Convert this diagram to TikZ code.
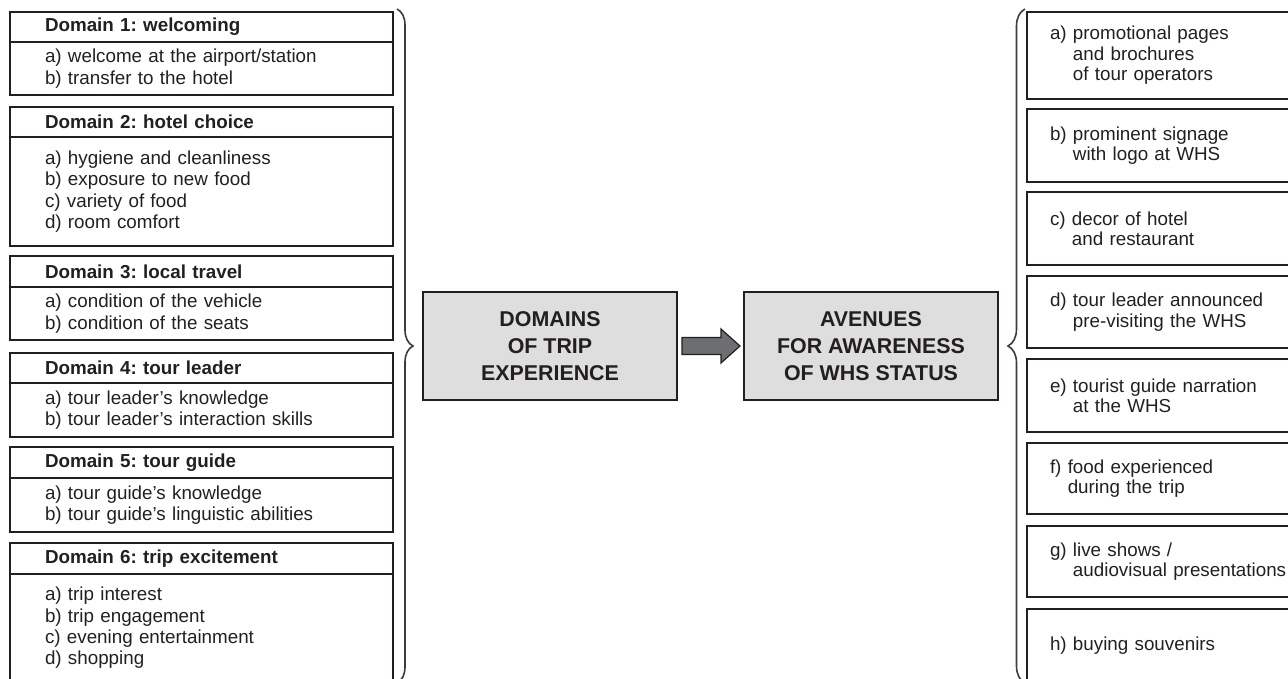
\documentclass[tikz,border=0pt]{standalone}
\usepackage{fontspec}
\setmainfont{Liberation Sans}
\usetikzlibrary{decorations.pathreplacing,calc}
\frenchspacing

\definecolor{ink}{HTML}{231F20}
\definecolor{panel}{HTML}{DEDEDE}
\definecolor{arrowgray}{HTML}{6D6E70}
\definecolor{bracegray}{HTML}{3C3C3C}

\newcommand\itemfs{\fontsize{18.8}{21.4}\selectfont}
\newcommand\avefs{\fontsize{18.8}{20.4}\selectfont}
\newcommand\titlefs{\fontsize{21.4}{26.7}\selectfont\bfseries}

% one domain: header row + list of aspects, framed together
\newcommand\domain[6]{%
  \node[dhead, minimum height=#3] (h#1) at (10,#2) {#5};
  \node[dbody, minimum height=#4] (b#1) at (h#1.south west) {#6};
  \draw[outline] (h#1.north west) rectangle (b#1.south east);
  \draw[divider] (h#1.south west) -- (h#1.south east);}

% label followed by a block whose continuation lines sit under the text
\newcommand\avenue[2]{\sbox0{#1\ }\usebox0\parbox[t]{220pt}{#2}}

\begin{document}
\begin{tikzpicture}[x=1pt,y=-1pt,
  outline/.style={draw=ink, line width=2.4pt},
  divider/.style={draw=ink, line width=1.3pt},
  cell/.style={rectangle, anchor=north west, inner ysep=0pt, outer sep=0pt,
    minimum width=383pt, text width=313pt, inner xsep=35pt, align=left, text=ink},
  dhead/.style={cell, font=\itemfs\bfseries},
  dbody/.style={cell, font=\itemfs},
  avebox/.style={draw=ink, line width=2.4pt, rectangle, anchor=north west,
    inner ysep=0pt, outer sep=0pt, minimum width=300pt, text width=254pt,
    inner xsep=23pt, align=left, font=\avefs, text=ink},
  hub/.style={draw=ink, line width=2.4pt, fill=panel, rectangle, outer sep=0pt,
    minimum width=254pt, minimum height=108pt, align=center, font=\titlefs, text=ink},
  blockarrow/.style={fill=arrowgray, draw=ink, line width=1.2pt, line join=miter},
  bracket/.style={draw=bracegray, line width=1.6pt, decorate,
    decoration={brace, amplitude=#1}}
]
\useasboundingbox (0,0) rectangle (1288,679);
\clip (0,0) rectangle (1288,679);

% domains of trip experience
\domain{1}{12}{30pt}{53pt}{Domain 1: welcoming}
  {a) welcome at the airport/station\\b) transfer to the hotel}
\domain{2}{107}{30pt}{109pt}{Domain 2: hotel choice}
  {a) hygiene and cleanliness\\b) exposure to new food\\c) variety of food\\d) room comfort}
\domain{3}{256}{31pt}{53pt}{Domain 3: local travel}
  {a) condition of the vehicle\\b) condition of the seats}
\domain{4}{353}{30pt}{54pt}{Domain 4: tour leader}
  {a) tour leader’s knowledge\\b) tour leader’s interaction skills}
\domain{5}{447}{31pt}{54pt}{Domain 5: tour guide}
  {a) tour guide’s knowledge\\b) tour guide’s linguistic abilities}
\domain{6}{543}{31pt}{108pt}{Domain 6: trip excitement}
  {a) trip interest\\b) trip engagement\\c) evening entertainment\\d) shopping}

% braces grouping each column
\draw[bracket=16pt] (397,9) -- (397,683);
\draw[bracket=17pt] (1025,683) -- (1025,9);

% central summary boxes and the arrow between them
\node[hub] (dom) at (550,346) {DOMAINS\\OF TRIP\\EXPERIENCE};
\node[hub] (ave) at (871,346) {AVENUES\\FOR AWARENESS\\OF WHS STATUS};
\path (dom.east) ++(5,0) coordinate (ar0);
\path (ave.west) ++(-4,0) coordinate (ar1);
\draw[blockarrow] ($(ar0)+(0,-8.5)$) -- ($(ar1)+(-19,-8.5)$) -- ($(ar1)+(-19,-17)$)
  -- (ar1) -- ($(ar1)+(-19,17)$) -- ($(ar1)+(-19,8.5)$) -- ($(ar0)+(0,8.5)$) -- cycle;

% avenues for awareness of WHS status
\node[avebox, minimum height=87pt] (va) at (1027,12)
  {\avenue{a)}{promotional pages\\and brochures\\of tour operators}};
\node[avebox, minimum height=73pt] (vb) at (1027,109)
  {\avenue{b)}{prominent signage\\with logo at WHS}};
\node[avebox, minimum height=73pt] (vc) at (1027,192)
  {\avenue{c)}{decor of hotel\\and restaurant}};
\node[avebox, minimum height=72pt] (vd) at (1027,276)
  {\avenue{d)}{tour leader announced\\pre-visiting the WHS}};
\node[avebox, minimum height=73pt] (ve) at (1027,359)
  {\avenue{e)}{tourist guide narration\\at the WHS}};
\node[avebox, minimum height=71pt] (vf) at (1027,443)
  {\avenue{f)}{food experienced\\during the trip}};
\node[avebox, minimum height=71pt] (vg) at (1027,526)
  {\avenue{g)}{live shows /\\audiovisual presentations}};
\node[avebox, minimum height=73pt] (vh) at (1027,609)
  {\avenue{h)}{buying souvenirs}};
\end{tikzpicture}
\end{document}
